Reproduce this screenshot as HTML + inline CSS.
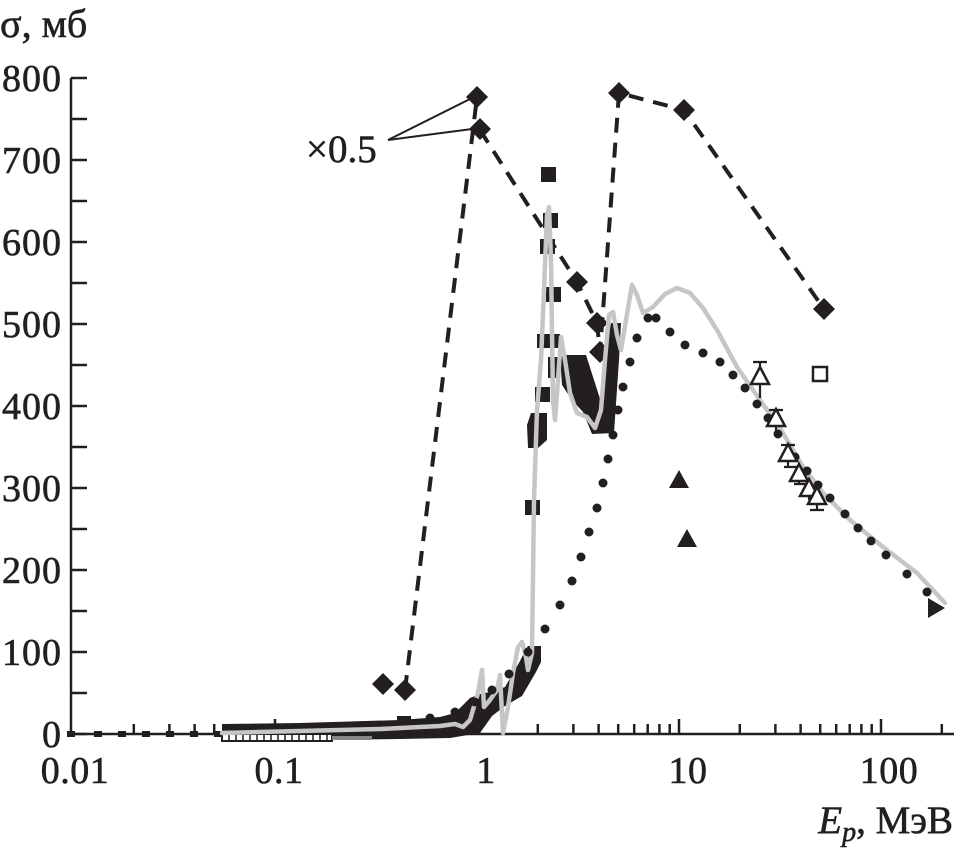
<!DOCTYPE html>
<html><head><meta charset="utf-8"><style>
html,body{margin:0;padding:0;background:#fff;}
svg{display:block;}
text{font-family:"Liberation Serif","DejaVu Serif",serif;fill:#231f20;stroke:#231f20;stroke-width:0.6;}
</style></head><body>
<svg width="954" height="853" viewBox="0 0 954 853" xmlns="http://www.w3.org/2000/svg">
<rect width="954" height="853" fill="#fff"/>

<!-- axes -->
<g stroke="#231f20" stroke-width="2.5" fill="none">
<line x1="71" y1="78" x2="71" y2="735"/>
<line x1="70" y1="734" x2="954" y2="734"/>
<path d="M71 734h16M71 693h16M71 652h16M71 611h16M71 570h16M71 529h16M71 488h16M71 447h16M71 406h16M71 365h16M71 324h16M71 283h16M71 242h16M71 201h16M71 160h16M71 119h16M71 78h16"/>
<path d="M133.8 734v-10M169.4 734v-10M194.6 734v-10M214.2 734v-10M230.2 734v-10M243.7 734v-10M255.4 734v-10M265.7 734v-10
M335.8 734v-10M371.4 734v-10M396.6 734v-10M416.2 734v-10M432.2 734v-10M445.7 734v-10M457.4 734v-10M467.7 734v-10
M537.8 734v-10M573.4 734v-10M598.6 734v-10M618.2 734v-10M634.2 734v-10M647.7 734v-10M659.4 734v-10M669.7 734v-10
M739.8 734v-10M775.4 734v-10M800.6 734v-10M820.2 734v-10M836.2 734v-10M849.7 734v-10M861.4 734v-10M871.7 734v-10
M941.8 734v-10"/>
<path d="M275 734v-15M477 734v-15M679 734v-15M881 734v-15"/>
</g>

<!-- labels -->
<g font-size="38" text-anchor="end" letter-spacing="1">
<text x="62" y="91">800</text>
<text x="62" y="173">700</text>
<text x="62" y="255">600</text>
<text x="62" y="337">500</text>
<text x="62" y="419">400</text>
<text x="62" y="501">300</text>
<text x="62" y="583">200</text>
<text x="62" y="665">100</text>
<text x="62" y="747">0</text>
</g>
<g font-size="38" text-anchor="middle" letter-spacing="0.5">
<text x="75" y="783">0.01</text>
<text x="279" y="783">0.1</text>
<text x="486" y="783">1</text>
<text x="688" y="783">10</text>
<text x="889" y="783">100</text>
</g>
<text x="0" y="37" font-size="40">σ, мб</text>
<text x="953" y="833" font-size="39" text-anchor="end"><tspan font-style="italic">E</tspan><tspan font-style="italic" font-size="28" dy="8">p</tspan><tspan dy="-8">, МэВ</tspan></text>
<text x="306" y="162" font-size="39">×0.5</text>
<g stroke="#231f20" stroke-width="2" fill="none">
<line x1="388" y1="140" x2="474" y2="97"/>
<line x1="388" y1="140" x2="472" y2="129"/>
</g>

<!-- dashed lines -->
<g stroke="#231f20" stroke-width="4" fill="none" stroke-dasharray="15 10">
<polyline points="405,690 477,97"/>
<polyline points="480,130 577,282 597,323 600,352 619,93 684,110 824,309"/>
</g>

<!-- diamonds -->
<g fill="#231f20">
<path d="M383 673l11 11-11 11-11-11z"/>
<path d="M405 679l11 11-11 11-11-11z"/>
<path d="M477 86l11 11-11 11-11-11z"/>
<path d="M480 118l11 11-11 11-11-11z"/>
<path d="M577 271l11 11-11 11-11-11z"/>
<path d="M597 312l11 11-11 11-11-11z"/>
<path d="M600 341l11 11-11 11-11-11z"/>
<path d="M619 82l11 11-11 11-11-11z"/>
<path d="M684 99l11 11-11 11-11-11z"/>
<path d="M824 298l11 11-11 11-11-11z"/>
</g>

<!-- black square data -->
<g fill="#231f20">
<rect x="67" y="731" width="8" height="6"/>
<rect x="94" y="731" width="8" height="6"/>
<rect x="118" y="731" width="8" height="6"/>
<rect x="142" y="731" width="8" height="6"/>
<rect x="166" y="731" width="8" height="6"/>
<rect x="190" y="731" width="8" height="6"/>
<rect x="214" y="731" width="8" height="6"/>
<polygon points="222,724 300,723 400,720 440,717 455,713 463,705 470,698 480,694 495,691 505,687 512,675 520,661 526,649 528,646 541,646 541,662 536,672 522,696 505,706 492,716 480,733 450,738 400,739 222,741"/>
<rect x="397" y="716" width="14" height="8"/>
<rect x="541" y="167" width="15" height="15"/>
<rect x="543" y="213" width="15" height="15"/>
<rect x="540" y="239" width="15" height="15"/>
<rect x="546" y="287" width="15" height="15"/>
<rect x="537" y="334" width="23" height="14"/>
<rect x="548" y="357" width="10" height="21"/>
<rect x="535" y="387" width="15" height="15"/>
<polygon points="531,413 547,413 547,440 538,448 528,448 527,425"/>
<rect x="525" y="500" width="15" height="15"/>
<polygon points="560,355 586,355 602,405 606,350 611,323 621,323 619,360 614,433 592,434 583,412 572,400 562,385"/>
</g>

<!-- open squares row under baseline -->
<rect x="222" y="734" width="110" height="7" fill="#fff" stroke="#231f20" stroke-width="2"/>
<g stroke="#231f20" stroke-width="1.5">
<path d="M229 734v7M236 734v7M243 734v7M250 734v7M257 734v7M264 734v7M271 734v7M278 734v7M285 734v7M292 734v7M299 734v7M306 734v7M313 734v7M320 734v7M327 734v7"/>
</g>
<rect x="332" y="736" width="40" height="4" fill="#888"/>

<!-- gray theory curve -->
<polyline fill="none" stroke="#c6c6c6" stroke-width="4.5" stroke-linejoin="round" stroke-linecap="round"
points="222,733 300,731 380,729 420,727 440,726 455,724 463,727 470,720 478,693 482,670 484,707 490,700 497,690 500,675 503,733 508,707 513,673 518,647 522,642 526,657 528,670 532,653 534,500 537,410 541,360 544,290 547,215 549,207 551,260 553,400 555,420 558,380 561,337 565,360 570,393 577,413 587,417 595,428 601,410 605,360 609,315 613,312 617,335 621,350 626,320 632,285 637,295 643,313 653,307 665,294 677,288 690,293 703,308 717,330 737,367 760,400 783,433 803,467 823,493 850,520 883,547 917,573 945,603"/>

<!-- dotted curve -->
<g fill="#231f20">
<circle cx="430" cy="718" r="4.5"/><circle cx="455" cy="712" r="4.5"/><circle cx="475" cy="702" r="4.5"/>
<circle cx="492" cy="690" r="4.5"/><circle cx="509" cy="674" r="4.5"/><circle cx="528" cy="652" r="4.5"/>
<circle cx="545" cy="629" r="4.5"/><circle cx="560" cy="605" r="4.5"/><circle cx="572" cy="581" r="4.5"/>
<circle cx="581" cy="557" r="4.5"/><circle cx="589" cy="532" r="4.5"/><circle cx="597" cy="508" r="4.5"/>
<circle cx="603" cy="483" r="4.5"/><circle cx="608" cy="459" r="4.5"/><circle cx="613" cy="435" r="4.5"/>
<circle cx="618" cy="410" r="4.5"/><circle cx="623" cy="387" r="4.5"/><circle cx="630" cy="362" r="4.5"/>
<circle cx="637" cy="338" r="4.5"/><circle cx="648" cy="318" r="4.5"/><circle cx="656" cy="318" r="4.5"/>
<circle cx="670" cy="332" r="4.5"/><circle cx="685" cy="345" r="4.5"/><circle cx="703" cy="353" r="4.5"/>
<circle cx="720" cy="362" r="4.5"/><circle cx="733" cy="375" r="4.5"/><circle cx="745" cy="388" r="4.5"/>
<circle cx="757" cy="404" r="4.5"/><circle cx="768" cy="418" r="4.5"/><circle cx="778" cy="434" r="4.5"/>
<circle cx="795" cy="457" r="4.5"/><circle cx="807" cy="471" r="4.5"/><circle cx="818" cy="485" r="4.5"/>
<circle cx="830" cy="498" r="4.5"/><circle cx="845" cy="514" r="4.5"/><circle cx="858" cy="528" r="4.5"/>
<circle cx="871" cy="541" r="4.5"/><circle cx="886" cy="555" r="4.5"/><circle cx="907" cy="574" r="4.5"/>
<circle cx="927" cy="592" r="4.5"/>
</g>

<!-- open triangles with error bars -->
<g stroke="#231f20" stroke-width="2.2" fill="none">
<path d="M760 362v36M753 362h14M776 410v26M769 410h14M788 445v23M781 445h14M799 465v20M784 467h14M809 483v17M794 484h14M817 490v20M810 510h14"/>
</g>
<g stroke="#231f20" stroke-width="2.5" fill="#fff">
<path d="M760 367l9 17h-18z"/>
<path d="M776 409l9 17h-18z"/>
<path d="M788 444l9 17h-18z"/>
<path d="M799 464l9 17h-18z"/>
<path d="M809 479l9 17h-18z"/>
<path d="M817 487l9 17h-18z"/>
<rect x="813" y="367" width="14" height="14"/>
</g>

<!-- filled triangles -->
<g fill="#231f20">
<path d="M679 470l10 18h-20z"/>
<path d="M687 529l10 18h-20z"/>
<path d="M928 598l17 10-17 10z"/>
</g>
</svg>
</body></html>
